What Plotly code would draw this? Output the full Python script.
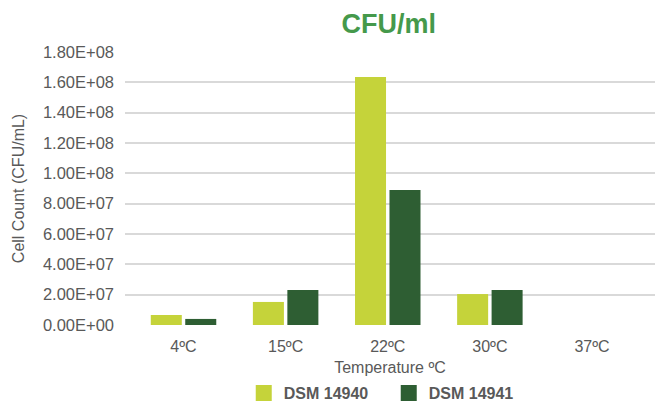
import plotly.graph_objects as go

categories = ["4ºC", "15ºC", "22ºC", "30ºC", "37ºC"]
dsm_14940 = [6.6e6, 1.52e7, 1.635e8, 2.04e7, 0]
dsm_14941 = [4.0e6, 2.31e7, 8.9e7, 2.31e7, 0]
series_names = ["DSM 14940", "DSM 14941"]
colors = ["#C5D33A", "#2E5E33"]
y_tickvals = [0, 2e7, 4e7, 6e7, 8e7, 1e8, 1.2e8, 1.4e8, 1.6e8, 1.8e8]
y_ticktext = ["0.00E+00", "2.00E+07", "4.00E+07", "6.00E+07", "8.00E+07",
              "1.00E+08", "1.20E+08", "1.40E+08", "1.60E+08", "1.80E+08"]

FONT = "Liberation Sans"
GREY = "#595959"

fig = go.Figure()
for name, vals, col in zip(series_names, [dsm_14940, dsm_14941], colors):
    fig.add_trace(go.Bar(x=list(range(len(categories))), y=vals, name=name,
                         marker=dict(color=col, line=dict(width=0)),
                         showlegend=False))
    # legend swatch
    fig.add_trace(go.Scatter(x=[None], y=[None], mode="markers", name=name,
                             marker=dict(symbol="square", size=20, color=col)))

fig.update_layout(
    width=660, height=405,
    margin=dict(l=125, r=5, t=52, b=80),
    paper_bgcolor="white", plot_bgcolor="white",
    barmode="group", bargap=0.325, bargroupgap=0.1,
    font=dict(family=FONT, size=16, color=GREY),
    title=dict(text="CFU/ml", x=0.589, xanchor="center", xref="container",
               y=1 - 24 / 405, yanchor="middle", yref="container",
               font=dict(family=FONT, size=27, color="#45994B", weight="bold")),
    showlegend=True,
    legend=dict(orientation="h", xref="container", yref="container",
                x=0.589, xanchor="center", y=1 - 393 / 405, yanchor="middle",
                font=dict(family=FONT, size=16, color=GREY, weight="bold"),
                itemsizing="trace", tracegroupgap=0, itemwidth=30,
                entrywidth=100, entrywidthmode="pixels"),
    xaxis=dict(tickmode="array", tickvals=list(range(len(categories))), ticktext=categories,
               range=[-0.573, 4.617], showgrid=False, zeroline=False, showline=False,
               ticks="", automargin=False, ticklabelstandoff=10,
               tickfont=dict(size=16, color=GREY),
               title=dict(text="Temperature ºC", font=dict(size=16, color=GREY), standoff=9)),
    yaxis=dict(range=[0, 1.8e8], tickmode="array", tickvals=y_tickvals, ticktext=y_ticktext,
               showgrid=True, gridcolor="#D9D9D9", gridwidth=1.5, zeroline=False,
               showline=False, ticks="", ticklabelstandoff=10, automargin=False,
               tickfont=dict(size=16.5, color=GREY),
               title=dict(text="Cell Count (CFU/mL)", font=dict(size=16, color=GREY), standoff=14)),
)

fig.write_html("out.html", config={"displayModeBar": False},
               post_script="document.body.style.margin='0';")
